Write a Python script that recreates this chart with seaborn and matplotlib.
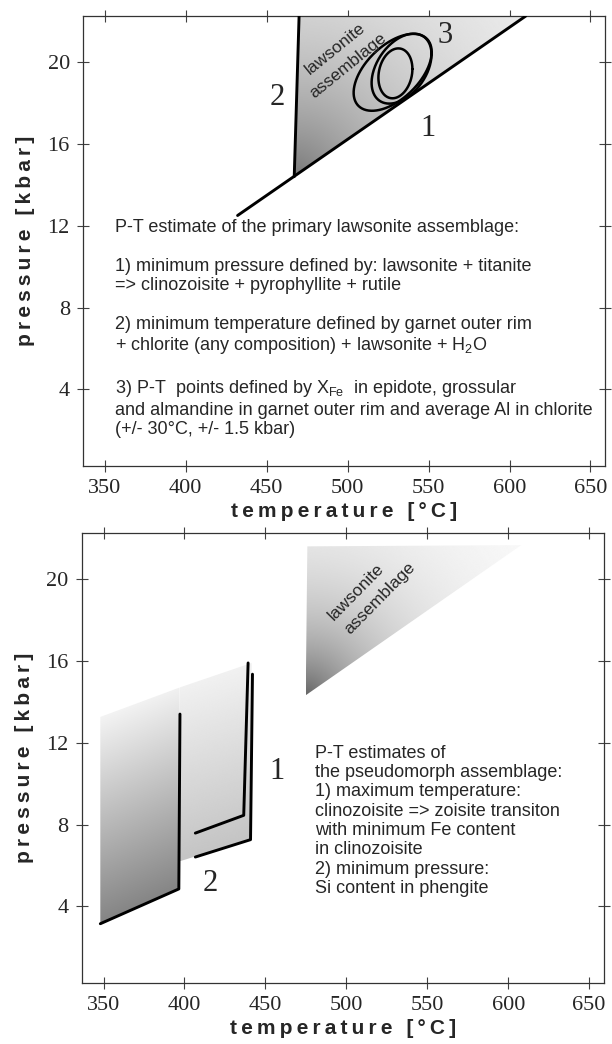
import numpy as np
import seaborn as sns
import matplotlib.pyplot as plt
from matplotlib.patches import Polygon

# ---- shared axes
temp_ticks = [350, 400, 450, 500, 550, 600, 650]
pres_ticks = [4, 8, 12, 16, 20]
temp_lim = (336.5, 659)
pres_lim = (0.25, 22.25)

# ---- upper panel: primary lawsonite assemblage
rxn1_T = [432, 610]      # lawsonite + titanite => clinozoisite + pyrophyllite + rutile
rxn1_P = [12.5, 22.25]
rxn2_T = [467, 470]      # garnet rim + chlorite + lawsonite + H2O
rxn2_P = [14.4, 22.25]

ell_T = [527.8, 533.3, 529.5]    # P-T points, centres
ell_P = [19.5, 19.68, 19.45]
ell_dT = [24.1, 18.5, 10.5]      # half ranges
ell_dP = [1.88, 1.71, 1.22]
ell_phase = [58, 66, 80]         # tilt of the error ellipse (deg)

field_top_T = [rxn2_T[0], rxn2_T[1], rxn1_T[1]]
field_top_P = [rxn2_P[0], rxn2_P[1], rxn1_P[1]]

# ---- lower panel: pseudomorph assemblage
si_T = [348, 396.5, 397.2]
si_P = [3.15, 4.85, 13.4]
czo1_T = [406.7, 436.6, 439.3]
czo1_P = [7.58, 8.45, 15.9]
czo2_T = [406.7, 440.8, 442.0]
czo2_P = [6.41, 7.26, 15.35]
fieldA_T = [348, 397, 397, 348]
fieldA_P = [3.15, 4.87, 14.7, 13.26]
fieldB_T = [397, 441.5, 441.5, 397]
fieldB_P = [6.2, 7.3, 15.9, 14.7]
law_T = [474.9, 475.9, 608]
law_P = [14.32, 21.6, 21.66]

text_top = ("P-T estimate of the primary lawsonite assemblage:\n\n"
            "1) minimum pressure defined by: lawsonite + titanite\n"
            "=> clinozoisite + pyrophyllite + rutile\n\n"
            "2) minimum temperature defined by garnet outer rim\n"
            "+ chlorite (any composition) + lawsonite + H$_\\mathregular{2}$O\n\n"
            "3) P-T  points defined by X$_\\mathregular{Fe}$  in epidote, grossular\n"
            "and almandine in garnet outer rim and average Al in chlorite\n"
            "(+/- 30°C, +/- 1.5 kbar)")
text_bot = ("P-T estimates of\n"
            "the pseudomorph assemblage:\n"
            "1) maximum temperature:\n"
            "clinozoisite => zoisite transiton\n"
            "with minimum Fe content\n"
            "in clinozoisite\n"
            "2) minimum pressure:\n"
            "Si content in phengite")

#%%
sns.set_style("ticks")
plt.rcParams['font.family'] = ['Liberation Sans', 'DejaVu Sans']
plt.rcParams['mathtext.fontset'] = 'custom'
plt.rcParams['mathtext.rm'] = 'Liberation Sans'

W, H = 6.12, 10.44
fig = plt.figure(figsize=(W, H), dpi=100)
ax1 = fig.add_axes([0.1356, 0.5536, 0.853, 0.431])
ax2 = fig.add_axes([0.1335, 0.0584, 0.853, 0.431])


def spaced(s):
    return '\u2009'.join(s)


def px_scale(ax):
    pos = ax.get_position()
    return (pos.width * W * 100 / (temp_lim[1] - temp_lim[0]),
            pos.height * H * 100 / (pres_lim[1] - pres_lim[0]))


def shade(ax, T, P, fn):
    poly = Polygon(np.column_stack([T, P]), closed=True, facecolor='none',
                   edgecolor='none')
    ax.add_patch(poly)
    t = np.linspace(min(T), max(T), 400)
    p = np.linspace(min(P), max(P), 400)
    TT, PP = np.meshgrid(t, p)
    im = ax.imshow(fn(TT, PP), extent=[min(T), max(T), min(P), max(P)],
                   origin='lower', cmap='gray', vmin=0, vmax=1, aspect='auto',
                   interpolation='bilinear', zorder=1)
    im.set_clip_path(poly)


def style(ax):
    ax.set_xlim(temp_lim)
    ax.set_ylim(pres_lim)
    ax.set_xticks(temp_ticks)
    ax.set_yticks(pres_ticks)
    ax.tick_params(direction='inout', length=9, width=0.8, color='0.25',
                   top=True, right=True, labelsize=16, pad=5,
                   labelfontfamily='Liberation Serif')
    for sp in ax.spines.values():
        sp.set_color('0.2')
        sp.set_linewidth(0.9)
    ax.set_xlabel(spaced('temperature [°C]'), fontsize=15, fontweight='bold',
                  labelpad=3)
    ax.set_ylabel(spaced('pressure [kbar]'), fontsize=15, fontweight='bold',
                  labelpad=9)


def line(ax, T, P, lw=2.0):
    sns.lineplot(x=T, y=P, sort=False, estimator=None, color='black', lw=lw,
                 ax=ax, zorder=3)


# ---- upper panel
sx, sy = px_scale(ax1)
shade(ax1, field_top_T, field_top_P,
      lambda T, P: 1 - 0.53 * np.exp(-np.hypot((T - rxn2_T[0]) * sx,
                                               (P - rxn2_P[0]) * sy) / 149))
line(ax1, rxn1_T, rxn1_P, 2.1)
line(ax1, rxn2_T, rxn2_P, 2.1)
t = np.linspace(0, 2 * np.pi, 240)
for cT, cP, a, b, ph in zip(ell_T, ell_P, ell_dT, ell_dP, ell_phase):
    line(ax1, cT + a * np.cos(t), cP + b * np.cos(t - np.radians(ph)), 1.8)

serif = dict(family='Liberation Serif', fontsize=22, ha='center', va='center')
ax1.text(549.6, 16.74, '1', **serif)
ax1.text(456.4, 18.29, '2', **serif)
ax1.text(560, 21.3, '3', **serif)
ax1.text(492.2, 20.64, 'lawsonite', rotation=39, fontsize=12.5,
         ha='center', va='center', zorder=4)
ax1.text(500.2, 19.84, 'assemblage', rotation=39, fontsize=12.5,
         ha='center', va='center', zorder=4)
ax1.text(356, 6.97, text_top, fontsize=13, ha='left', va='center',
         linespacing=1.18)
style(ax1)

# ---- lower panel
sx, sy = px_scale(ax2)
shade(ax2, fieldA_T, fieldA_P,
      lambda T, P: 0.52 + 0.43 * np.clip((P - 3.15 - (T - 348) * 0.0347) * sy / 205, 0, 1))
shade(ax2, fieldB_T, fieldB_P,
      lambda T, P: 0.77 + 0.19 * np.clip((P - 6.2 - (T - 397) * 0.026) * sy / 190, 0, 1))
shade(ax2, law_T, law_P,
      lambda T, P: 1 - 0.6 * np.exp(-np.hypot((T - law_T[0]) * sx,
                                              (P - law_P[0]) * sy) / 85))
line(ax2, si_T, si_P, 2.1)
line(ax2, czo1_T, czo1_P, 2.1)
line(ax2, czo2_T, czo2_P, 2.1)

ax2.text(457, 10.57, '1', **serif)
ax2.text(416, 5.11, '2', **serif)
ax2.text(505.9, 19.35, 'lawsonite', rotation=45.5, fontsize=12.5,
         ha='center', va='center', zorder=4)
ax2.text(520.8, 19.05, 'assemblage', rotation=45.5, fontsize=12.5,
         ha='center', va='center', zorder=4)
ax2.text(480.7, 8.18, text_bot, fontsize=13, ha='left', va='center',
         linespacing=1.18)
style(ax2)

fig.savefig('out.png', dpi=100)
